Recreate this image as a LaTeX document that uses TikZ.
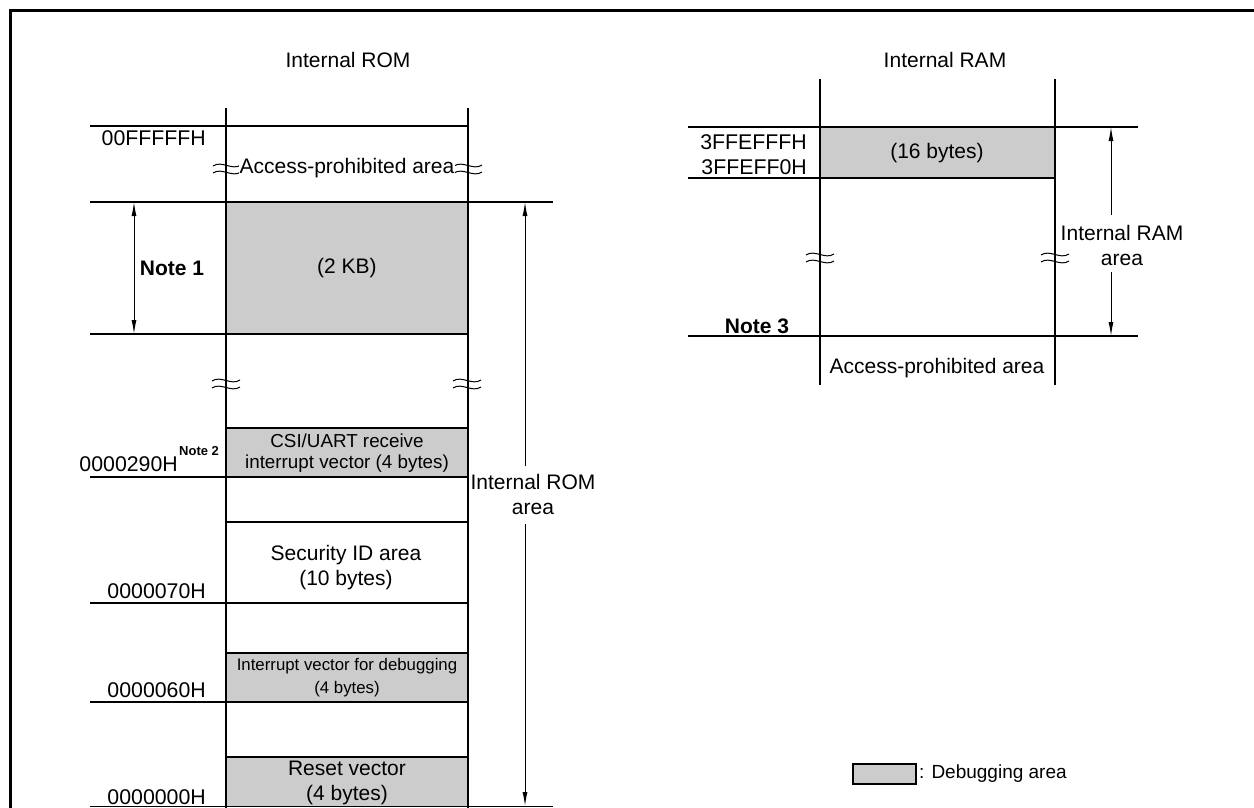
\documentclass[tikz,border=0pt]{standalone}
\usepackage{fontspec}
\setmainfont{Liberation Sans}
\usetikzlibrary{arrows.meta}
\definecolor{dbggray}{HTML}{CCCCCC}
\begin{document}
\begin{tikzpicture}[x=1pt,y=-1pt,
  hline/.style={line width=1.2pt},
  wall/.style={line width=2.6pt},
  dbgbox/.style={fill=dbggray,draw=black,line width=1.4pt},
  frame/.style={line width=3pt},
  big/.style={font=\fontsize{21}{25}\selectfont,inner sep=0pt,align=center},
  mid/.style={font=\fontsize{18.8}{22}\selectfont,inner sep=0pt,align=center},
  small/.style={font=\fontsize{16.8}{23}\selectfont,inner sep=0pt,align=center},
  bnote/.style={font=\fontsize{21}{25}\selectfont\bfseries,inner sep=0pt},
  addr/.style={font=\fontsize{21.3}{25}\selectfont,inner sep=0pt,anchor=base east},
  dimarrow/.style={line width=1pt,-{Latex[length=14pt,width=5pt]}},
  brk/.pic={\draw[line width=1pt] (-14,-2) .. controls (-5,-8) and (5,3) .. (14,-3);
            \draw[line width=1pt] (-14,5) .. controls (-5,-1) and (5,10) .. (14,4);}
]
\useasboundingbox (0,0) rectangle (1254,808);
% frame
\draw[frame] (10.5,808) -- (10.5,10.5) -- (1254,10.5);

% ---------- Internal ROM ----------
\node[big] (romtitle) at (348,60) {Internal ROM};
% debugging boxes
\fill[dbggray] (226,202) rectangle (468,334);
\fill[dbggray] (226,428) rectangle (468,477);
\fill[dbggray] (226,653) rectangle (468,702);
\fill[dbggray] (226,757) rectangle (468,807);
% horizontal lines
\draw[hline] (90,126) -- (468,126);
\draw[hline] (90,202) -- (553,202);
\draw[hline] (90,334) -- (468,334);
\draw[hline] (226,428) -- (468,428);
\draw[hline] (90,477) -- (468,477);
\draw[hline] (226,522) -- (468,522);
\draw[hline] (90,603) -- (468,603);
\draw[hline] (226,653) -- (468,653);
\draw[hline] (90,702) -- (468,702);
\draw[hline] (226,757) -- (468,757);
\draw[hline] (90,806.5) -- (553,806.5);
% walls
\draw[wall] (226,108) -- (226,808);
\draw[wall] (468,108) -- (468,808);
% break marks
\pic at (227,168) {brk};
\pic at (468,168) {brk};
\pic at (226,383) {brk};
\pic at (467,383) {brk};
% texts
\node[big,fill=white,inner xsep=1pt] (acc1) at (347,168) {Access-prohibited area};
\node[big] (kb2) at (347,268) {(2 KB)};
\node[mid] (csi) at (347,453) {CSI/UART receive\\[-1pt]interrupt vector (4 bytes)};
\node[big] (secid) at (346,568) {Security ID area\\(10 bytes)};
\node[small] (ivdbg) at (347,678) {Interrupt vector for debugging\\(4 bytes)};
\node[big] (reset) at (347,783) {Reset vector\\(4 bytes)};
% addresses
\node[addr] (a1) at (206,145) {00FFFFFH};
\node[addr] (a2) at (178,471) {0000290H};
\node[font=\fontsize{13}{15}\selectfont\bfseries,inner sep=0pt,anchor=base west] (n2) at (179,455) {Note 2};
\node[addr] (a3) at (206,598) {0000070H};
\node[addr] (a4) at (206,697) {0000060H};
\node[addr] (a5) at (206,804) {0000000H};
% Note 1 arrow
\coordinate (n1t) at (134,202);
\coordinate (n1b) at (134,334);
\draw[line width=1pt,{Latex[length=14pt,width=5pt]}-{Latex[length=14pt,width=5pt]}] (n1t) -- (n1b);
\node[bnote] (note1) at (172,268) {Note 1};
% Internal ROM area arrow
\node[big] (romarea) at (533,494) {Internal ROM\\area};
\coordinate (rat) at (525,202);
\coordinate (rab) at (525,806);
\coordinate (ram1) at (525,466);
\coordinate (ram2) at (525,524);
\draw[dimarrow] (ram1) -- (rat);
\draw[dimarrow] (ram2) -- (rab);

% ---------- Internal RAM ----------
\node[big] (ramtitle) at (945,60) {Internal RAM};
\fill[dbggray] (820,127) rectangle (1055,178);
\draw[hline] (688,127) -- (1138,127);
\draw[hline] (688,178) -- (1055,178);
\draw[hline] (688,336) -- (1138,336);
\draw[wall] (820,79) -- (820,385);
\draw[wall] (1055,79) -- (1055,385);
\pic at (820,257) {brk};
\pic at (1055,257) {brk};
\node[big] (b16) at (937,153) {(16 bytes)};
\node[addr] (r1) at (807,149) {3FFEFFFH};
\node[addr] (r2) at (807,174) {3FFEFF0H};
\node[bnote] (note3) at (757,326) {Note 3};
\node[big] (acc2) at (937,368) {Access-prohibited area};
\node[big] (ramarea) at (1122,245) {Internal RAM\\area};
\coordinate (mat) at (1111,127);
\coordinate (mab) at (1111,336);
\coordinate (mam1) at (1111,215);
\coordinate (mam2) at (1111,272);
\draw[dimarrow] (mam1) -- (mat);
\draw[dimarrow] (mam2) -- (mab);

% ---------- legend ----------
\node[dbgbox,minimum width=63pt,minimum height=20pt,inner sep=0pt] (leg) at (884.5,774) {};
\node[font=\fontsize{19}{22}\selectfont,inner sep=0pt,anchor=west] (legt) at (919,774) {: Debugging area};
\end{tikzpicture}
\end{document}
